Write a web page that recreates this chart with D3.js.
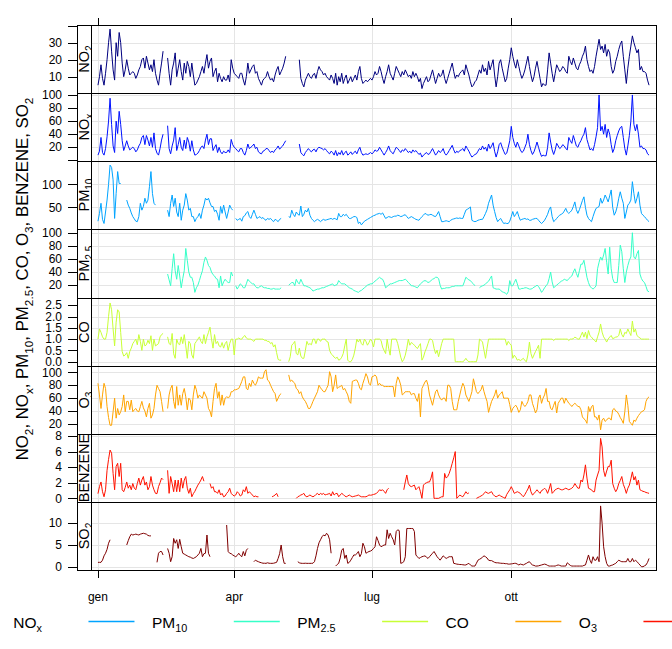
<!DOCTYPE html>
<html><head><meta charset="utf-8">
<script src="https://cdn.jsdelivr.net/npm/d3@7"></script>
<style>body{margin:0;background:#fff}svg{display:block}text{font-family:"Liberation Sans",Arial,sans-serif;fill:#000}</style>
</head><body><svg id="c" width="672" height="649"></svg>
<script>
// ---------- DATA (daily means, 1 Jan - 31 Dec) ----------
const YEAR = 2015;
const NO2 = [5,10,17,9,5,12,20,30,38,25,
14,8,30,22,36,30,18,10,14,20,
15,11,12,13,12,9,11,14,16,20,
21,15,22,18,14,17,13,20,12,8,
5,12,18,25,null,null,21,12,5,14,
18,24,10,15,20,13,8,18,12,19,
16,10,18,11,5,6,8,10,13,16,
12,18,23,15,19,21,10,13,15,7,
12,9,7,10,8,8,11,7,20,15,
12,11,10,9,12,12,8,5,10,18,
12,14,16,17,12,13,9,7,5,8,
9,10,13,10,8,9,7,11,14,16,
11,13,15,18,22,null,null,null,null,null,
null,null,null,20,9,6,4,8,10,12,
10,9,11,12,9,13,16,14,13,11,
12,10,9,8,11,9,6,12,5,10,
7,12,6,9,11,6,8,10,7,9,
11,8,13,16,9,6,7,8,7,8,
9,8,10,13,11,12,16,13,9,6,
10,13,17,12,10,8,12,16,14,12,
10,13,11,14,12,10,11,9,13,10,
12,10,7,9,3,6,8,10,7,8,
11,14,10,6,9,12,10,11,14,9,
6,9,12,15,18,13,9,11,10,12,
13,14,11,17,14,11,7,4,5,7,
8,11,14,12,17,13,15,11,19,14,
17,20,11,4,10,18,20,15,11,7,
9,15,20,27,22,18,15,20,16,12,
9,11,14,18,22,16,11,7,10,15,
19,14,9,4,6,5,5,14,24,18,
12,7,12,17,15,13,14,16,15,13,
12,22,19,17,21,18,15,14,17,19,
22,24,28,20,16,13,14,12,16,22,
27,32,26,28,24,29,22,26,24,16,
12,14,19,22,26,29,31,22,14,6,
15,22,28,34,30,27,24,26,14,16,
13,13,12,8,5];
const NOX = [8,14,35,12,8,18,36,60,95,55,
22,12,60,41,75,55,30,15,22,30,
22,16,18,20,18,13,16,22,26,35,
38,24,38,31,22,35,20,42,18,11,
8,18,31,40,null,null,53,18,10,22,
31,50,15,24,35,20,15,31,18,35,
28,14,30,16,8,9,11,15,20,22,
18,31,40,24,33,33,15,20,24,12,
20,13,10,14,12,12,16,12,32,24,
20,18,15,13,18,18,12,8,15,25,
18,20,22,25,18,20,13,11,10,14,
15,18,18,15,12,14,12,16,18,22,
17,20,22,26,30,null,null,null,null,null,
null,null,null,25,12,9,7,12,15,18,
15,13,16,17,13,18,20,19,18,16,
18,15,12,10,14,12,8,15,7,12,
9,15,8,12,14,8,10,13,9,12,
14,10,16,20,12,8,9,10,9,10,
12,10,12,16,14,15,20,16,12,8,
12,16,22,15,12,10,15,20,18,15,
12,16,14,18,15,12,14,11,16,13,
15,12,9,11,5,8,10,12,9,10,
14,18,13,8,11,15,12,14,18,11,
8,11,15,19,23,16,11,14,12,15,
16,18,14,22,18,14,9,5,7,9,
10,14,18,16,22,17,20,14,25,18,
22,27,14,5,13,24,27,20,14,9,
11,20,30,52,35,26,20,28,22,16,
12,14,20,26,40,24,15,9,13,20,
28,20,12,6,8,7,7,20,42,28,
16,9,16,26,22,18,20,24,22,18,
16,35,30,26,38,30,22,20,26,30,
36,40,50,32,24,16,18,15,24,36,
50,100,45,52,40,55,35,48,40,24,
12,18,30,38,45,50,52,35,18,8,
22,38,60,100,55,45,55,40,20,22,
18,18,16,10,8];
const PM10 = [20,37,59,24,15,40,66,100,142,137,
110,26,80,128,102,102,null,null,null,66,
55,48,38,30,25,20,19,30,59,44,
52,70,59,66,95,128,80,59,55,null,
null,null,null,null,null,null,44,30,59,77,
52,70,40,30,59,22,44,55,80,66,
44,48,30,30,19,26,30,37,26,44,
55,70,66,70,60,52,52,41,44,35,
22,52,37,55,40,26,40,55,48,44,
null,26,22,24,26,20,30,32,38,41,
30,26,35,44,35,26,28,30,26,28,
24,22,26,24,26,22,19,24,22,19,
24,26,null,null,null,null,30,28,44,35,
30,40,35,33,53,30,35,44,40,48,
33,26,22,19,22,24,22,19,22,24,
22,23,24,25,26,24,26,25,23,37,
30,30,35,32,35,30,26,26,28,30,
30,28,15,18,12,16,20,22,24,26,
28,30,32,33,35,36,37,35,38,32,
26,28,30,29,28,30,31,31,33,32,
30,31,33,34,30,26,28,30,28,26,
24,23,22,26,30,33,37,35,33,34,
35,33,31,30,35,41,30,19,19,20,
21,20,19,22,24,25,26,27,26,27,
26,26,35,44,46,48,51,22,20,19,
20,22,23,24,24,30,37,45,59,68,
77,55,41,28,19,23,26,20,15,16,
15,15,20,30,41,30,35,41,30,22,
24,25,26,24,25,22,22,24,25,26,
26,22,18,15,18,22,28,35,45,51,
30,19,22,26,30,33,35,37,42,48,
40,37,40,44,52,62,45,37,45,55,
65,73,50,33,26,22,19,30,40,48,
50,52,70,59,66,77,70,62,75,88,
50,33,40,52,70,84,70,59,26,40,
55,59,66,106,80,59,70,84,55,37,
33,30,26,22,19];
const PM25 = [null,null,null,null,null,null,null,null,null,null,
null,null,null,null,null,null,null,null,null,null,
null,null,null,null,null,null,null,null,null,null,
null,null,null,null,null,null,null,null,null,null,
null,null,null,null,null,null,37,28,19,45,
68,42,29,50,34,16,30,42,76,58,
40,32,32,24,9,16,20,27,35,42,
55,63,58,50,47,40,36,34,30,29,
16,34,19,25,29,26,24,24,40,34,
null,19,14,18,22,20,16,16,22,29,
26,24,22,22,18,16,16,18,19,17,
16,16,15,15,14,14,15,14,14,14,
14,16,null,null,null,null,20,22,24,24,
19,29,24,22,29,24,19,19,18,17,
16,14,11,12,13,14,14,15,16,16,
17,18,19,20,21,22,19,20,21,27,
24,22,22,22,20,18,16,15,14,12,
11,10,9,11,12,14,16,18,20,21,
22,22,24,26,28,30,32,30,29,24,
16,18,20,22,22,23,24,25,26,27,
27,27,28,29,27,24,22,19,19,18,
17,16,19,22,24,26,27,26,24,25,
27,29,30,32,32,30,20,14,15,15,
16,16,16,17,18,18,19,19,19,19,
19,19,25,32,30,28,27,24,22,19,
null,null,16,18,19,20,22,24,26,30,
34,16,15,14,14,14,12,10,9,8,
6,10,27,19,19,24,29,22,14,14,
15,15,16,16,15,14,14,15,17,18,
20,18,14,9,12,16,19,22,30,40,
25,16,18,20,22,24,26,27,29,28,
27,30,32,34,40,45,38,32,42,52,
52,58,45,32,24,18,16,14,16,19,
45,55,63,58,66,76,55,37,78,45,
30,24,24,24,50,81,71,45,24,40,
50,58,63,100,63,60,68,73,37,30,
26,24,18,11,10];
const CO = [1.0,1.45,1.3,1.1,1.0,1.0,1.3,2.0,2.6,2.3,
1.45,0.7,1.75,2.3,2.2,1.3,0.45,0.25,0.3,0.4,
0.15,0.45,0.6,0.8,0.9,1.0,0.75,1.2,0.9,0.5,
1.0,0.7,0.75,0.95,0.8,1.15,0.5,1.0,0.7,0.75,
0.8,1.1,1.2,1.25,null,null,1.1,0.8,0.75,1.25,
0.35,0.15,1.0,0.8,0.75,1.1,0.8,1.2,0.7,0.15,
0.9,0.8,0.3,0.15,0.8,0.9,1.0,1.1,0.9,0.8,
1.2,0.8,1.1,1.3,1.53,1.0,0.6,1.2,0.8,0.9,
0.7,0.65,0.85,0.6,0.8,0.9,0.5,0.8,1.0,1.0,
0.3,1.0,1.0,1.05,1.0,1.0,1.1,1.16,1.05,1.0,
1.0,1.0,0.95,0.9,1.0,1.0,1.0,1.0,1.0,1.0,
0.95,0.95,0.9,0.9,0.8,0.85,0.65,0.75,0.4,0.1,
0.07,0.07,null,null,null,null,0.0,0.22,0.73,0.8,
0.9,0.36,0.3,0.6,0.25,0.15,0.15,0.5,0.9,0.75,
0.8,0.75,1.0,1.0,0.8,1.0,1.0,0.9,1.0,1.0,
1.0,0.9,0.87,0.5,0.35,0.29,0.2,0.15,0.2,0.07,
0.1,0.2,0.36,0.7,1.0,0.07,0.0,0.0,0.1,0.29,
0.6,1.0,0.87,1.0,0.8,0.73,1.0,0.9,0.73,0.85,
1.0,0.9,0.65,1.0,1.0,1.0,1.0,0.94,0.65,0.5,
0.36,1.0,0.6,0.29,1.0,1.0,1.0,1.0,0.8,0.51,
0.2,0.0,0.1,0.29,0.6,1.0,0.73,0.85,0.8,0.73,
0.65,0.58,0.7,0.8,0.07,0.2,0.44,0.6,0.8,1.0,
1.0,0.94,0.6,0.36,0.51,0.22,0.5,0.8,1.0,1.0,
1.0,1.0,1.0,1.0,1.0,1.0,0.0,0.0,0.0,0.0,
0.0,0.0,0.05,0.15,0.05,0.0,0.0,0.0,0.0,0.0,
0.0,0.3,1.0,0.95,0.87,0.5,0.15,0.6,1.0,1.0,
1.0,1.0,1.0,1.0,1.0,1.0,1.0,1.0,1.0,1.0,
0.73,0.9,0.8,0.73,0.15,0.29,0.2,0.07,0.1,0.05,
0.1,0.15,0.05,0.0,0.3,0.87,0.36,0.15,0.3,0.45,
0.58,0.73,0.15,1.0,1.0,1.0,1.0,1.0,1.0,1.0,
1.0,0.94,1.0,1.0,1.0,1.0,1.0,1.0,1.0,1.0,
1.0,0.94,1.0,1.0,1.02,1.09,1.05,1.0,1.0,1.16,
1.31,1.09,1.31,1.02,1.38,1.15,1.09,1.0,0.95,0.87,
1.1,1.31,1.67,1.31,1.1,1.0,0.87,1.0,1.09,1.16,
1.02,1.05,1.09,1.1,1.16,1.45,1.2,1.09,1.3,1.25,
1.45,1.3,1.16,1.8,1.31,1.45,1.16,1.1,1.05,1.0,
1.0,1.0,1.0,1.0,1.0];
const O3 = [83,65,44,65,83,75,47,30,18,18,
39,60,29,44,34,39,47,65,39,55,
55,42,57,39,42,44,40,39,47,55,
45,40,31,44,52,29,34,44,65,80,
75,70,55,39,null,null,44,65,75,80,
55,44,78,49,65,49,67,75,62,42,
60,57,42,65,80,73,60,65,62,60,
70,65,60,44,40,31,55,75,83,60,
70,49,65,49,60,62,61,62,70,70,
73,73,74,75,80,86,93,93,75,73,
83,78,88,83,80,85,93,91,91,91,
101,104,88,86,80,75,70,67,55,60,
65,67,null,null,null,null,96,86,88,85,
83,75,73,67,70,62,58,55,50,44,
44,49,55,60,65,70,80,76,73,70,
70,75,80,101,93,70,80,96,75,77,
78,80,73,75,70,65,55,52,86,87,
88,88,83,75,73,83,90,98,93,83,
80,93,94,96,93,80,83,80,80,78,
78,78,78,78,78,78,62,83,93,88,
80,65,67,70,70,70,70,65,67,67,
60,55,67,31,75,80,85,88,80,65,
57,49,60,70,73,65,60,57,60,60,
55,80,80,75,55,42,42,42,55,65,
75,83,78,65,60,55,62,70,90,80,
70,67,70,73,80,70,62,55,38,47,
55,60,65,73,60,65,67,70,60,60,
60,60,50,38,44,47,49,45,38,42,
55,50,47,50,55,65,65,52,45,37,
42,60,65,52,60,65,75,55,55,44,
42,49,55,37,52,56,60,60,52,60,
56,52,50,47,50,52,50,47,47,42,
31,28,26,21,47,39,47,49,31,31,
26,34,11,26,29,24,26,29,29,26,
42,44,40,39,35,30,26,21,39,65,
49,24,21,18,26,24,29,33,36,39,
40,42,55,60,62];
const BENZENE = [0.6,1.5,2.1,0.85,0.2,1.1,3.6,5.0,6.2,5.8,
3.2,1.1,4.1,4.5,2.8,4.5,1.1,0.85,1.4,2.1,
1.3,1.7,1.1,1.9,1.3,1.1,1.9,2.6,1.7,2.35,
2.8,1.7,2.1,1.1,1.5,2.8,1.7,1.1,0.64,0.6,
1.5,2.0,2.6,2.4,null,null,3.6,0.64,2.8,1.9,
0.85,2.35,0.85,2.35,0.85,2.6,1.3,2.35,2.8,1.3,
0.64,1.3,0.2,0.6,0.9,1.3,1.7,2.0,2.35,2.8,
2.2,null,null,null,1.9,1.3,1.5,0.85,0.85,0.64,
1.1,0.43,0.64,0.2,0.3,0.64,0.85,1.3,0.64,0.43,
0.3,0.43,0.85,0.64,0.3,0.43,1.1,0.85,1.5,0.64,
0.85,0.64,0.43,0.2,0.3,0.2,0.2,null,null,null,
null,null,null,null,null,0.2,0.3,0.43,0.64,0.2,
null,null,null,null,null,null,null,null,null,null,
null,0.0,0.2,0.3,0.43,0.5,0.64,0.3,0.2,0.3,
0.43,0.3,0.2,0.3,0.5,0.64,0.43,0.64,0.5,0.64,
0.43,0.5,0.55,0.64,0.3,0.85,0.43,0.6,0.64,0.2,
0.43,0.64,0.5,0.3,0.2,0.3,0.43,0.3,0.2,0.25,
0.3,0.35,0.43,0.3,0.2,0.2,0.2,0.2,0.3,0.43,
0.4,0.43,0.5,0.55,0.64,0.85,1.1,1.0,1.1,0.9,
0.64,1.1,1.3,null,null,null,null,null,null,null,
null,null,1.1,2.1,3.0,1.9,1.6,1.5,1.6,1.7,
1.1,1.3,1.5,0.85,0.0,1.7,1.9,2.0,2.1,2.1,
2.6,3.4,0.0,0.0,0.0,0.0,0.1,0.2,0.2,3.2,
2.6,2.8,3.2,3.8,4.5,5.2,6.0,0.0,0.2,0.43,
0.3,0.2,0.5,0.85,0.6,0.7,null,null,null,null,
0.0,0.1,0.2,0.3,0.43,0.6,0.85,0.7,0.64,0.75,
0.85,0.5,0.3,0.2,0.3,0.43,0.3,0.2,0.1,0.0,
0.5,0.8,1.1,1.5,1.1,0.64,0.75,0.85,0.75,0.64,
0.4,0.2,0.5,0.85,1.2,1.7,0.85,0.43,0.6,0.85,
1.1,0.85,0.64,1.0,1.1,1.3,1.1,0.64,1.2,1.9,
0.64,0.85,1.1,1.2,1.3,1.2,1.1,1.1,1.2,1.3,
1.2,1.1,1.2,1.3,1.5,1.9,1.6,1.3,1.3,2.35,
2.1,3.0,4.3,2.6,1.3,1.2,1.1,0.85,0.85,2.35,
3.0,3.6,7.7,6.6,3.6,2.8,3.5,4.1,4.1,4.9,
1.9,1.3,0.85,1.2,1.9,2.3,2.8,1.8,1.3,0.64,
1.3,1.7,2.5,3.4,2.35,2.8,1.7,2.35,1.1,1.0,
0.9,0.85,0.75,0.7,0.64];
const SO2 = [1.0,1.0,1.0,1.5,2.5,3.1,4.0,5.4,6.2,null,
null,null,null,null,null,null,null,null,null,5.0,
6.0,6.9,7.5,7.3,7.4,7.5,7.4,7.3,7.5,7.6,
7.7,7.6,7.5,7.2,7.1,7.1,null,null,null,1.0,
3.1,3.5,3.5,2.7,null,null,4.2,3.1,1.15,2.3,
6.5,5.4,6.2,4.2,6.3,4.6,3.1,2.9,2.7,2.5,
2.3,2.2,2.0,1.9,2.1,2.3,2.7,3.1,4.2,2.3,
3.0,3.1,7.3,3.1,2.3,null,null,null,null,null,
null,null,null,null,null,9.6,3.5,3.1,3.0,2.7,
2.5,2.3,2.6,3.1,2.6,2.3,3.5,2.5,3.8,4.2,
null,null,null,1.15,1.5,1.3,1.15,1.0,0.9,0.8,
0.8,0.77,0.9,0.8,0.77,0.77,0.8,0.9,1.0,1.9,
3.0,5.0,2.3,0.77,0.77,null,null,null,null,null,
null,null,1.15,0.9,0.8,0.77,0.77,0.8,0.77,0.77,
0.77,0.77,0.8,1.15,2.5,4.2,5.5,6.2,6.9,7.3,
7.1,7.7,7.3,6.2,3.1,null,null,0.15,0.5,0.77,
2.0,3.8,4.2,1.9,2.7,0.77,1.0,1.5,2.1,2.7,
2.7,3.0,3.5,2.3,3.0,5.4,4.6,3.1,3.3,3.5,
3.6,3.8,4.2,4.6,6.9,6.0,5.0,4.6,4.8,5.0,
5.0,8.5,6.5,7.7,6.9,6.2,5.0,8.1,8.5,8.3,
0.77,0.9,1.15,2.3,8.8,8.8,8.8,8.8,8.8,8.1,
2.7,2.3,1.9,2.1,2.3,2.4,2.5,2.2,1.9,2.3,
2.7,3.1,3.5,2.9,2.3,1.9,1.5,2.0,2.5,2.2,
1.9,2.1,2.3,2.3,2.3,0.77,0.7,0.6,0.55,0.5,
0.5,0.45,0.4,0.4,0.6,0.77,0.4,0.15,0.15,0.15,
0.8,1.5,1.7,1.9,2.2,2.5,2.3,2.0,1.5,1.4,
1.4,1.2,1.0,0.9,0.9,0.85,0.8,0.77,0.77,0.7,
0.7,0.6,0.6,0.65,0.7,0.77,0.77,0.6,0.4,0.6,
0.5,0.4,0.6,0.77,1.0,1.15,0.7,0.4,0.3,0.15,
0.15,0.2,0.3,0.4,0.5,0.6,0.5,0.3,0.15,0.15,
0.15,0.15,0.15,0.3,0.4,0.3,0.15,0.15,0.15,0.15,
0.9,0.6,0.3,0.15,0.15,0.15,0.15,0.15,0.15,0.15,
0.15,0.3,0.4,1.5,2.7,1.5,0.77,2.3,1.5,1.5,
2.3,1.15,14,10,4.6,2.3,0.77,0.15,0.15,0.3,
0.4,0.6,0.77,1.15,1.5,1.3,1.15,1.15,1.15,1.15,
1.9,1.15,1.15,1.9,1.15,1.5,1.2,0.77,0.4,0.0,
0.0,0.2,0.4,1.0,1.9];

const seriesValues = [NO2, NOX, PM10, PM25, CO, O3, BENZENE, SO2];
// label = main text + optional subscript
const seriesMain = ["NO", "NO", "PM", "PM", "CO", "O", "BENZENE", "SO"];
const seriesSub  = ["2", "x", "10", "2.5", "", "3", "", "2"];
const seriesColors = ["#00007F", "#0012FF", "#00A4FF", "#36FFC8", "#C8FF36", "#FFA400", "#FF1200", "#7F0000"];
const yDomains = [[0.4, 40.4], [-1, 103], [3, 151], [0.4, 105.7], [-0.19, 2.82], [4.5, 109.8], [-0.47, 8.26], [-0.76, 14.9]];
const yTicks = [[10, 20, 30], [20, 40, 60, 80, 100], [50, 100], [20, 40, 60, 80, 100],
                [0, 0.5, 1, 1.5, 2, 2.5], [20, 40, 60, 80, 100], [0, 2, 4, 6, 8], [0, 5, 10]];
const yBareTicks = [[40], [0], [], [], [], [], [], []];
const yTickFormats = ["d", "d", "d", "d", ".1f", "d", "d", "d"];
const monthTicks = [0, 3, 6, 9];            // month index of labelled ticks
const monthLabels = ["gen", "apr", "lug", "ott"];

// ---------- LAYOUT ----------
const svg = d3.select("#c");
svg.append("rect").attr("width", 672).attr("height", 649).attr("fill", "#fff");
const stripL = 77, plotL = 91, plotR = 656, top0 = 25, bottom = 570;
const nP = seriesValues.length;
const panelH = (bottom - top0) / nP;
const DAY = 864e5;
const t0 = Date.UTC(YEAR, 0, 1), t1 = Date.UTC(YEAR, 11, 31);
const x = d3.scaleUtc().domain([new Date(t0 - 4.6 * DAY), new Date(t1 + 4.6 * DAY)]).range([plotL, plotR]);
const dateOf = i => new Date(t0 + i * DAY);
const tickDates = monthTicks.map(m => new Date(Date.UTC(YEAR, m, 1)));

const defs = svg.append("defs");

// appends main text + subscript; returns the baseline offset left pending
function addSubText(sel, main, sub, size, pre) {
  sel.append("tspan").attr("dy", pre || 0).text(main);
  if (sub) {
    const sh = size * 0.28;
    sel.append("tspan").attr("font-size", size * 0.7).attr("dy", sh).text(sub);
    return -sh;
  }
  return 0;
}

for (let p = 0; p < nP; p++) {
  const yTop = Math.round(top0 + p * panelH), yBot = Math.round(top0 + (p + 1) * panelH);
  const y = d3.scaleLinear().domain(yDomains[p]).range([yBot, yTop]);
  const g = svg.append("g");
  // grid
  g.selectAll(".hg").data(yTicks[p]).join("line")
    .attr("x1", plotL).attr("x2", plotR)
    .attr("y1", d => Math.round(y(d)) + 0.5).attr("y2", d => Math.round(y(d)) + 0.5)
    .attr("stroke", "#e5e5e5").attr("stroke-width", 1);
  g.selectAll(".vg").data(tickDates).join("line")
    .attr("x1", d => Math.round(x(d)) + 0.5).attr("x2", d => Math.round(x(d)) + 0.5)
    .attr("y1", yTop).attr("y2", yBot)
    .attr("stroke", "#e5e5e5").attr("stroke-width", 1);
  // line
  const cid = "clip" + p;
  defs.append("clipPath").attr("id", cid).append("rect")
    .attr("x", plotL).attr("y", yTop).attr("width", plotR - plotL).attr("height", yBot - yTop);
  const line = d3.line().defined(d => d != null).x((d, i) => x(dateOf(i))).y(d => y(d));
  g.append("path").attr("d", line(seriesValues[p])).attr("fill", "none")
    .attr("stroke", seriesColors[p]).attr("stroke-width", 1).attr("stroke-linejoin", "round")
    .attr("clip-path", `url(#${cid})`);
  // left axis
  const fmt = d3.format(yTickFormats[p]);
  const allT = yTicks[p].concat(yBareTicks[p]);
  g.selectAll(".tk").data(allT).join("line")
    .attr("x1", 68).attr("x2", stripL)
    .attr("y1", d => Math.round(y(d)) + 0.5).attr("y2", d => Math.round(y(d)) + 0.5)
    .attr("stroke", "#000");
  g.selectAll(".tl").data(yTicks[p]).join("text")
    .attr("x", 62).attr("y", d => y(d) + 4.2).attr("text-anchor", "end")
    .attr("font-size", 12).text(d => fmt(d));
  // strip
  const sid = "sclip" + p;
  defs.append("clipPath").attr("id", sid).append("rect")
    .attr("x", stripL).attr("y", yTop).attr("width", plotL - stripL).attr("height", yBot - yTop);
  const st = g.append("g").attr("clip-path", `url(#${sid})`).append("text")
    .attr("transform", `translate(${plotL - 2},${(yTop + yBot) / 2}) rotate(-90)`)
    .attr("text-anchor", "middle").attr("font-size", 14.5);
  addSubText(st, seriesMain[p], seriesSub[p], 14.5);
  // frames
  g.append("rect").attr("x", stripL + 0.5).attr("y", yTop + 0.5)
    .attr("width", plotR - stripL).attr("height", yBot - yTop)
    .attr("fill", "none").attr("stroke", "#000");
  g.append("line").attr("x1", plotL + 0.5).attr("x2", plotL + 0.5).attr("y1", yTop).attr("y2", yBot)
    .attr("stroke", "#000");
}

// top & bottom month ticks
svg.selectAll(".tt").data(tickDates).join("line")
  .attr("x1", d => Math.round(x(d)) + 0.5).attr("x2", d => Math.round(x(d)) + 0.5)
  .attr("y1", top0 - 7).attr("y2", top0).attr("stroke", "#000");
svg.selectAll(".bt").data(tickDates).join("line")
  .attr("x1", d => Math.round(x(d)) + 0.5).attr("x2", d => Math.round(x(d)) + 0.5)
  .attr("y1", bottom + 1).attr("y2", bottom + 8).attr("stroke", "#000");
svg.selectAll(".bl").data(tickDates).join("text")
  .attr("x", d => x(d)).attr("y", 601).attr("text-anchor", "middle").attr("font-size", 12)
  .text((d, i) => monthLabels[i]);

// y axis title
const title = svg.append("text")
  .attr("transform", `translate(28,279) rotate(-90)`)
  .attr("text-anchor", "middle").attr("font-size", 16.8);
let pend = 0;
seriesMain.forEach((m, i) => {
  pend = addSubText(title, m, seriesSub[i], 16.8, pend);
  if (i < nP - 1) { title.append("tspan").attr("dy", pend).text(", "); pend = 0; }
});

// legend (wider than the page, starts off-screen left)
const lg = svg.append("g");
const items = [];
let cx = 0;
seriesMain.forEach((m, i) => {
  const tx = lg.append("text").attr("x", cx + 63.5).attr("y", 627.5).attr("font-size", 15.5);
  addSubText(tx, m, seriesSub[i], 15.5);
  const w = tx.node().getComputedTextLength();
  items.push({lx: cx, tx: cx + 63.5, col: seriesColors[i]});
  cx = cx + 63.5 + w + 46.5;
});
const shift = 13.3 - items[1].tx;
lg.attr("transform", `translate(${shift},0)`);
lg.selectAll("path.key").data(items).join("path")
  .attr("class", "key")
  .attr("d", d => `M${d.lx},621.5H${d.lx + 46}`)
  .attr("fill", "none")
  .attr("stroke", d => d.col)
  .attr("stroke-width", 1.4);
</script></body></html>
